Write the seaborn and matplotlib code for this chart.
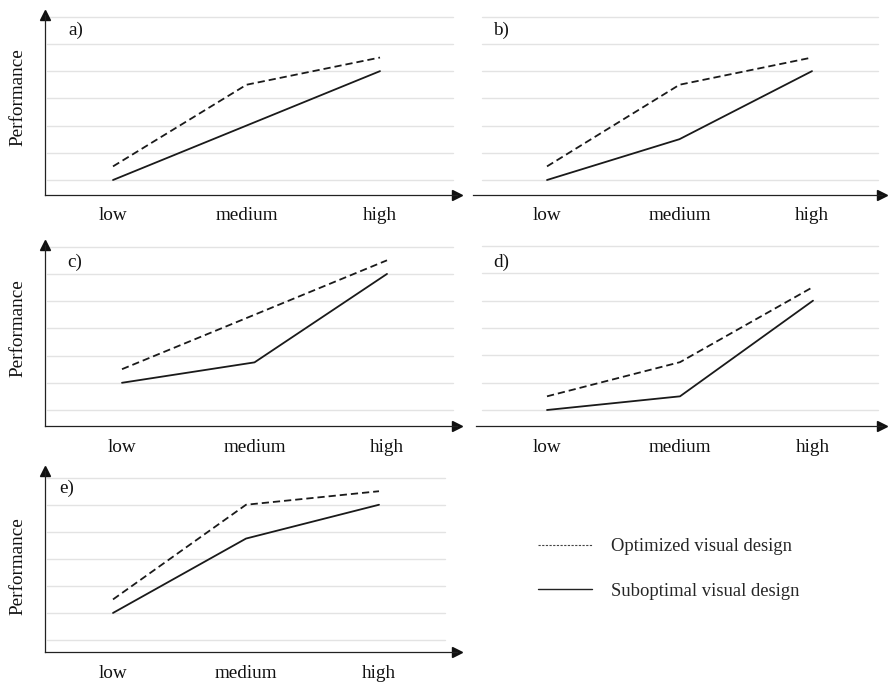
import pandas as pd
import matplotlib
matplotlib.use("Agg")
import matplotlib.pyplot as plt
from matplotlib.lines import Line2D
import seaborn as sns

# Workload levels on the x axis
levels = ["low", "medium", "high"]
panel_names = ["a)", "b)", "c)", "d)", "e)"]
series_names = ["Optimized visual design", "Suboptimal visual design"]

# Performance per level (in grid-line units) for each scenario
optimized_a = [1.5, 4.5, 5.5]
suboptimal_a = [1.0, 3.0, 5.0]
optimized_b = [1.5, 4.5, 5.5]
suboptimal_b = [1.0, 2.5, 5.0]
optimized_c = [2.5, 4.5, 6.5]
suboptimal_c = [2.0, 2.75, 6.0]
optimized_d = [1.5, 2.75, 5.5]
suboptimal_d = [1.0, 1.5, 5.0]
optimized_e = [2.5, 6.0, 6.5]
suboptimal_e = [2.0, 4.75, 6.0]

optimized = [optimized_a, optimized_b, optimized_c, optimized_d, optimized_e]
suboptimal = [suboptimal_a, suboptimal_b, suboptimal_c, suboptimal_d, suboptimal_e]

rows = []
for name, opt, sub in zip(panel_names, optimized, suboptimal):
    for lvl, o, s in zip(levels, opt, sub):
        rows.append({"panel": name, "level": lvl, "design": series_names[0], "value": o})
        rows.append({"panel": name, "level": lvl, "design": series_names[1], "value": s})
df = pd.DataFrame(rows)

sns.set_style("white")
plt.rcParams["font.family"] = ["Liberation Serif", "DejaVu Serif"]

W, H = 888, 687
fig = plt.figure(figsize=(W / 100, H / 100), dpi=100)

# Panel geometry in pixels: axis start/end, x-axis row, arrow tip,
# bottom/top grid lines, low/high category columns, grid span, y axis shown
layout = {
    "a)": dict(x0=45, x1=463, yax=195, ytop=9, g1=180, g7=16.7, low=113, high=380, gl=47, gr=453, yaxis=True, lab=(68, 30), ylab=97),
    "b)": dict(x0=473, x1=888, yax=195, ytop=9, g1=180, g7=16.7, low=547, high=812, gl=482, gr=878, yaxis=False, lab=(493, 30)),
    "c)": dict(x0=45, x1=463, yax=426, ytop=239, g1=410, g7=246.7, low=122, high=387, gl=47, gr=453, yaxis=True, lab=(67, 262), ylab=328),
    "d)": dict(x0=476, x1=888, yax=426, ytop=239, g1=410, g7=246.0, low=547, high=813, gl=482, gr=878, yaxis=False, lab=(493, 262)),
    "e)": dict(x0=45, x1=463, yax=652, ytop=465, g1=640, g7=477.7, low=113, high=379, gl=47, gr=445, yaxis=True, lab=(59, 488), ylab=566),
}

line_color = "#1a1a1a"
font_size = 13.8
arrow_px = 6

for name in panel_names:
    g = layout[name]
    x1 = g["x1"] - arrow_px
    ytop = g["ytop"] + arrow_px
    ax = fig.add_axes([g["x0"] / W, 1 - g["yax"] / H, (x1 - g["x0"]) / W, (g["yax"] - ytop) / H])

    sub = df[df["panel"] == name]
    sns.lineplot(
        data=sub, x="level", y="value", style="design",
        style_order=series_names,
        dashes={series_names[0]: (4.0, 2.2), series_names[1]: ""},
        color=line_color, linewidth=1.3, legend=False, ax=ax,
    )

    sx = 2.0 / (g["high"] - g["low"])
    sy = 6.0 / (g["g1"] - g["g7"])
    ax.set_xlim((g["x0"] - g["low"]) * sx, (x1 - g["low"]) * sx)
    ax.set_ylim(1 - (g["yax"] - g["g1"]) * sy, 1 + (g["g1"] - ytop) * sy)

    # light horizontal guide lines
    fl = (g["gl"] - g["x0"]) / (x1 - g["x0"])
    fr = (g["gr"] - g["x0"]) / (x1 - g["x0"])
    for yv in range(1, 8):
        ax.axhline(yv, fl, fr, color="#e3e3e3", linewidth=1.0, zorder=0)

    ax.set_xticks(range(len(levels)))
    ax.set_xticklabels(levels)
    ax.set_yticks([])
    ax.tick_params(axis="x", length=0, pad=9, labelsize=font_size, colors="#111111")
    ax.set_xlabel("")
    ax.set_ylabel("")

    for sp in ["top", "right"]:
        ax.spines[sp].set_visible(False)
    ax.spines["bottom"].set_color("#222222")
    ax.spines["bottom"].set_linewidth(0.9)
    ax.plot(1, 0, marker=">", ms=7, color="#111111", transform=ax.transAxes, clip_on=False)
    if g["yaxis"]:
        ax.spines["left"].set_color("#222222")
        ax.spines["left"].set_linewidth(0.9)
        ax.plot(0, 1, marker="^", ms=6.5, color="#111111", transform=ax.transAxes, clip_on=False)
        fig.text(18 / W, 1 - g["ylab"] / H, "Performance", rotation=90,
                 ha="center", va="center", fontsize=font_size, color="#111111")
    else:
        ax.spines["left"].set_visible(False)

    fig.text(g["lab"][0] / W, 1 - g["lab"][1] / H, name, ha="left", va="center",
             fontsize=font_size, color="#111111")

handles = [
    Line2D([], [], color="#444444", linewidth=0.8, dashes=(2.0, 1.3)),
    Line2D([], [], color="#222222", linewidth=1.0),
]
fig.legend(handles, series_names, loc="upper left",
           bbox_to_anchor=(538 / W, 1 - 538 / H), frameon=False,
           fontsize=13.4, handlelength=2.9, handletextpad=1.0,
           labelspacing=1.5, borderpad=0, borderaxespad=0)

fig.savefig("out.png", dpi=100, facecolor="white")
